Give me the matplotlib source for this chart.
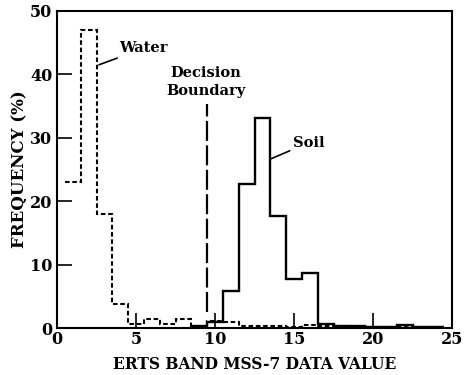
import matplotlib
matplotlib.use("Agg")
import matplotlib.pyplot as plt

# bin centres 1..24 (width 1)
water_edges = [x - 0.5 for x in range(1, 26)]
water_freq = [23, 47, 18, 3.8, 0.6, 1.5, 0.6, 1.5, 0.2, 1.2, 1.0, 0.3,
              0.4, 0.3, 0.2, 0.5, 0.3, 0.3, 0.2, 0.2, 0.2, 0.2, 0.2, 0.2]

soil_edges = [x - 0.5 for x in range(9, 26)]
soil_freq = [0.3, 1.0, 5.9, 22.7, 33.1, 17.7, 7.8, 8.7, 0.6, 0.4, 0.3,
             0.2, 0.2, 0.5, 0.2, 0.2]

boundary_x = 9.5
boundary_span = (2.6, 35.4)

xticks = [0, 5, 10, 15, 20, 25]
yticks = [0, 10, 20, 30, 40, 50]

plt.rcParams["font.family"] = ["DejaVu Serif"]
plt.rcParams["font.weight"] = "bold"

fig = plt.figure(figsize=(4.68, 3.75), dpi=100)
ax = fig.add_axes([0.122, 0.125, 0.844, 0.846])

ax.stairs(water_freq, water_edges, color="black", linewidth=1.5,
          linestyle=(0, (2.2, 1.3)), baseline=None)
ax.stairs(soil_freq, soil_edges, color="black", linewidth=1.7, baseline=None)

ax.vlines(boundary_x, *boundary_span, color="black", linewidth=1.6,
          linestyles=[(0, (9, 2))])

ax.annotate("Water", xy=(2.65, 41.5), xytext=(3.95, 44.1), fontsize=10.5,
            fontweight="bold", va="center", ha="left",
            arrowprops=dict(arrowstyle="-", color="black", lw=1.2,
                            shrinkA=0, shrinkB=0))
ax.annotate("Soil", xy=(13.55, 26.7), xytext=(14.9, 29.2), fontsize=10.5,
            fontweight="bold", va="center", ha="left",
            arrowprops=dict(arrowstyle="-", color="black", lw=1.2,
                            shrinkA=0, shrinkB=0))
ax.text(9.42, 38.8, "Decision\nBoundary", fontsize=10.5, fontweight="bold",
        ha="center", va="center", linespacing=1.35)

ax.set_xlim(0, 25)
ax.set_ylim(0, 50)
ax.set_xticks(xticks)
ax.set_yticks(yticks)
ax.tick_params(direction="in", length=11, width=1.2, labelsize=11.5)
ax.tick_params(axis="x", pad=2)
for sp in ax.spines.values():
    sp.set_linewidth(1.5)

ax.set_xlabel("ERTS BAND MSS-7 DATA VALUE", fontsize=11.2, fontweight="bold",
              labelpad=6)
ax.set_ylabel("FREQUENCY (%)", fontsize=12, fontweight="bold", labelpad=1)

fig.savefig("out.png", dpi=100)
